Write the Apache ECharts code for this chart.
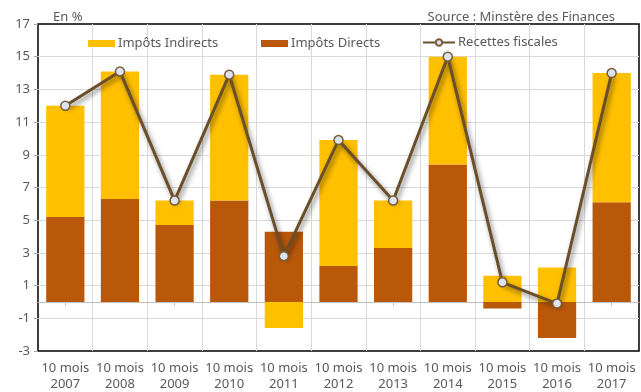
<!DOCTYPE html>
<html>
<head>
<meta charset="utf-8">
<style>
  html, body { margin: 0; padding: 0; background: #fff; }
  #chart { width: 641px; height: 392px; }
</style>
<script src="https://cdn.jsdelivr.net/npm/echarts@6/dist/echarts.min.js"></script>
</head>
<body>
<div id="chart"></div>
<script>
// Croissance des recettes fiscales sur 10 mois (en %)
const categories = ['10 mois\n2007', '10 mois\n2008', '10 mois\n2009', '10 mois\n2010', '10 mois\n2011',
                    '10 mois\n2012', '10 mois\n2013', '10 mois\n2014', '10 mois\n2015', '10 mois\n2016', '10 mois\n2017'];
const impotsDirects   = [5.2, 6.3, 4.7, 6.2, 4.3, 2.2, 3.3, 8.4, -0.4, -2.2, 6.1];
const impotsIndirects = [6.8, 7.8, 1.5, 7.7, -1.6, 7.7, 2.9, 6.6, 1.6, 2.1, 7.9];
const recettesFiscales = [12.0, 14.1, 6.2, 13.9, 2.8, 9.9, 6.2, 15.0, 1.2, -0.1, 14.0];
const yTicks = [-3, -1, 1, 3, 5, 7, 9, 11, 13, 15, 17];

const FONT = 'Noto Sans';
const TEXT = '#595959';
const GRID_LINE = '#D9D9D9';

const chart = echarts.init(document.getElementById('chart'), null, { renderer: 'canvas' });

const legendBase = {
  top: 32,
  itemHeight: 7,
  itemWidth: 27,
  itemGap: 3,
  textStyle: { fontFamily: FONT, fontSize: 13, color: TEXT, padding: [0, 0, 0, -2] },
  selectedMode: false
};

chart.setOption({
  animation: false,
  textStyle: { fontFamily: FONT },
  title: [
    { text: 'En %', left: 48, top: 6,
      textStyle: { fontFamily: FONT, fontSize: 13, fontWeight: 'normal', color: TEXT } },
    { text: 'Source : Minstère des Finances', right: 21, top: 6,
      textStyle: { fontFamily: FONT, fontSize: 13, fontWeight: 'normal', color: TEXT } }
  ],
  legend: [
    Object.assign({}, legendBase, { left: 83, data: [{ name: 'Impôts Indirects', icon: 'rect' }] }),
    Object.assign({}, legendBase, { left: 256, data: [{ name: 'Impôts Directs', icon: 'rect' }] }),
    Object.assign({}, legendBase, { left: 417, itemWidth: 32, itemHeight: 8, top: 31,
      data: [{ name: 'Recettes fiscales' }] })
  ],
  grid: {
    left: 38, right: 2, top: 24, bottom: 39,
    show: true, borderColor: '#000', borderWidth: 1.5, backgroundColor: 'transparent'
  },
  xAxis: [
    {
      type: 'category',
      data: categories,
      position: 'bottom',
      boundaryGap: true,
      axisLine: { show: false, onZero: false },
      axisTick: { show: false },
      axisLabel: { fontFamily: FONT, fontSize: 13, color: TEXT, lineHeight: 16, margin: 9, interval: 0 },
      splitLine: { show: true, showMinLine: false, showMaxLine: false,
                   lineStyle: { color: GRID_LINE, width: 1 } }
    },
    {
      type: 'category',
      data: categories,
      position: 'top',
      boundaryGap: true,
      axisLine: { show: true, onZero: true, lineStyle: { color: '#BFBFBF', width: 1 } },
      axisTick: { show: true, inside: true, alignWithLabel: true, length: 4,
                  lineStyle: { color: '#BFBFBF' } },
      axisLabel: { show: false },
      splitLine: { show: false }
    }
  ],
  yAxis: {
    type: 'value',
    min: -3,
    max: 17,
    interval: 1,
    axisLine: { show: false },
    axisTick: { show: true, length: 4, customValues: yTicks, lineStyle: { color: '#A6A6A6' } },
    axisLabel: { customValues: yTicks, fontFamily: FONT, fontSize: 13, color: TEXT, margin: 8 },
    splitLine: { show: true, showMinLine: false, showMaxLine: false,
                 lineStyle: { color: GRID_LINE, width: 1 } }
  },
  series: [
    {
      name: 'Impôts Directs',
      type: 'bar',
      stack: 'impots',
      barWidth: '70%',
      data: impotsDirects,
      itemStyle: { color: '#BA580A' }
    },
    {
      name: 'Impôts Indirects',
      type: 'bar',
      stack: 'impots',
      barWidth: '70%',
      data: impotsIndirects,
      itemStyle: { color: '#FFC000' }
    },
    {
      name: 'Recettes fiscales',
      type: 'line',
      data: recettesFiscales,
      symbol: 'circle',
      symbolSize: 9,
      z: 5,
      lineStyle: {
        color: '#6B4E2A', width: 3,
        shadowColor: 'rgba(0,0,0,0.5)', shadowBlur: 5, shadowOffsetX: 2, shadowOffsetY: 3
      },
      itemStyle: { color: '#DCE4F0', borderColor: '#7A5C38', borderWidth: 1.5 }
    }
  ]
});
</script>
</body>
</html>
